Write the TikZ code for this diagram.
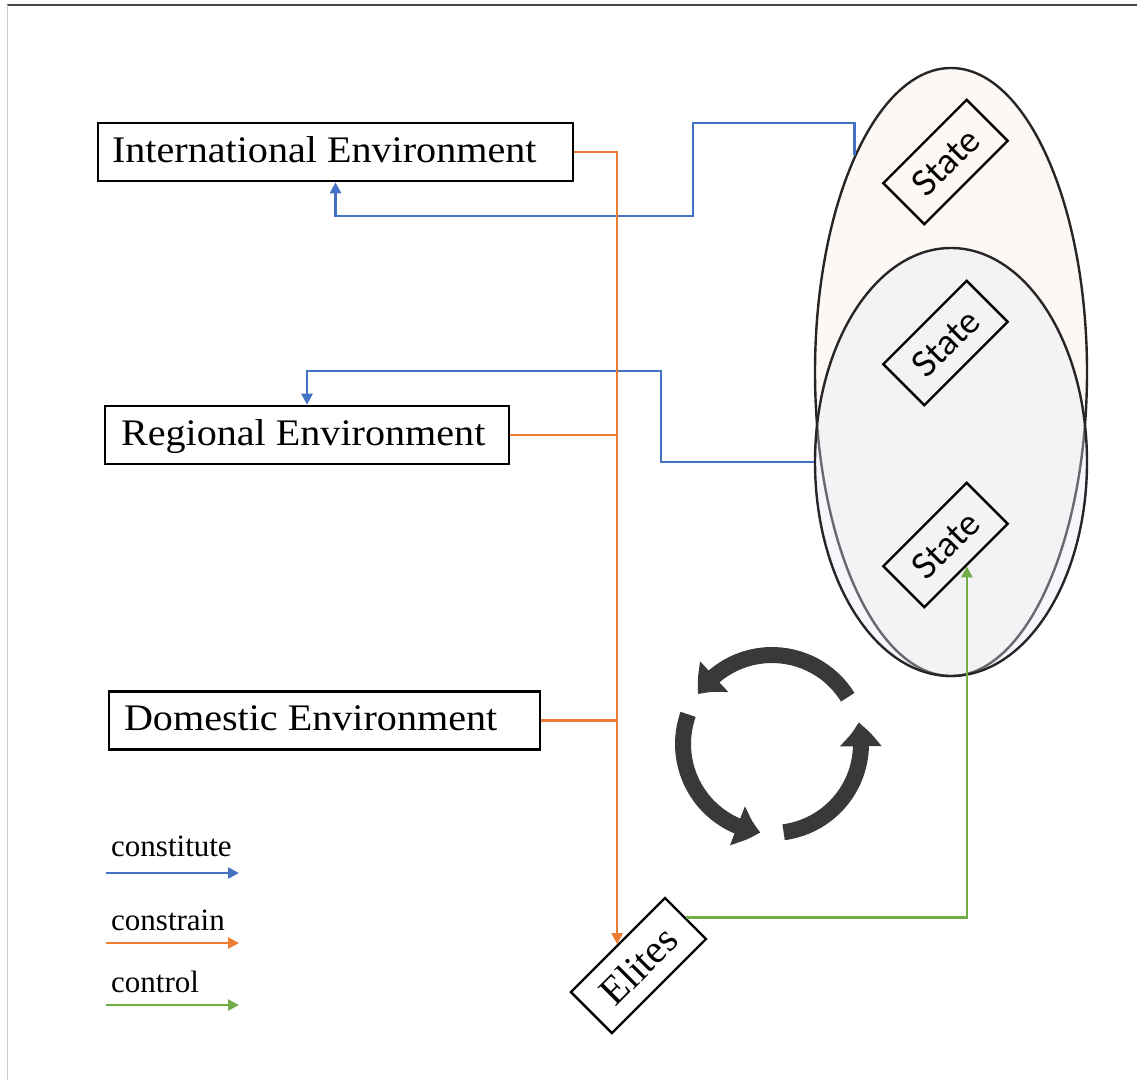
\documentclass[tikz,border=0pt]{standalone}
\usepackage{fontspec}
\setmainfont{Liberation Serif}
\newfontfamily\statefont{Lato}
\newfontfamily\envfamily[FakeStretch=1.07]{Liberation Serif}
\newcommand\envfont{\envfamily\fontsize{37.5}{40}\selectfont}
\usetikzlibrary{arrows.meta,bending,shapes.geometric}

\definecolor{cblue}{HTML}{4472C4}
\definecolor{corange}{HTML}{ED7D31}
\definecolor{cgreen}{HTML}{70AD47}
\definecolor{ringcol}{HTML}{262626}
\definecolor{creamfill}{HTML}{FDF8F3}
\definecolor{veilfill}{HTML}{E2E8F6}
\definecolor{cyclecol}{HTML}{3B3938}

% left-aligned label of fixed width inside an environment box
\newcommand\envlabel[2]{\makebox[#1][l]{#2}}

\tikzset{
  envbox/.style={draw=black, line width=2.6pt, minimum height=58pt, inner ysep=0pt,
    font=\envfont, text height=24pt, text depth=4pt},
  statebox/.style={draw=black, line width=2.4pt, rotate=45, minimum width=118pt,
    minimum height=58pt, inner sep=0pt, font=\statefont\fontsize{35}{40}\selectfont},
  elitebox/.style={draw=black, line width=2.4pt, fill=white, rotate=45, minimum width=133pt,
    minimum height=58pt, inner sep=0pt, font=\fontsize{40}{44}\selectfont},
  tipsmall/.tip={Triangle[length=11pt,width=11pt]},
  constitute/.style={draw=cblue, line width=2.4pt, -tipsmall},
  constrain/.style={draw=corange, line width=2.4pt, -tipsmall},
  constrainline/.style={draw=corange, line width=2.4pt},
  control/.style={draw=cgreen, line width=2.4pt, -tipsmall},
  legendtext/.style={anchor=base west, inner sep=0pt, font=\fontsize{31}{34}\selectfont},
  cyclearrow/.style={draw=cyclecol, line width=16pt, -{Triangle[length=24pt,width=40pt,bend]}},
}

\begin{document}
\begin{tikzpicture}[x=1pt, y=-1pt]
  \useasboundingbox (0,0) rectangle (1137,1080);

  % page frame
  \draw[line width=1.4pt, color=black!72] (7,5) -- (1137,5);
  \draw[line width=1.6pt, color=black!20] (7.5,5) -- (7.5,1080);

  % nested state ellipses
  \node[ellipse, draw=ringcol, line width=2.4pt, fill=creamfill, inner sep=0pt,
        minimum width=272pt, minimum height=608pt] (outer) at (951,372) {};
  \node[ellipse, draw=ringcol, line width=2.4pt, fill=veilfill, fill opacity=0.35,
        draw opacity=1, inner sep=0pt,
        minimum width=272pt, minimum height=428pt] (inner) at (951,462) {};

  \node[statebox] (s1) at (945.5,162) {State};
  \node[statebox] (s2) at (945.5,343) {State};
  \node[statebox] (s3) at (945.5,545) {State};

  % environments
  \node[envbox, inner xsep=14pt] (intl) at (335.5,152) {\envlabel{447pt}{International Environment}};
  \node[envbox, inner xsep=16pt] (reg)  at (307,435)   {\envlabel{372pt}{Regional Environment}};
  \node[envbox, inner xsep=15pt] (dom)  at (324.5,720.5) {\envlabel{401pt}{Domestic Environment}};

  \node[elitebox] (elites) at (638.5,965.5) {Elites};

  % constitute
  \draw[constitute] (outer.114) |- (693,123) -- (693,216) -| (intl.south);
  \draw[constitute] (inner.west) -- (661,462) -- (661,371) -| (reg.north);

  % constrain
  \draw[constrain] (intl.east) -| (elites.north);
  \draw[constrainline] (reg.east) -- (reg.east -| elites.north);
  \draw[constrainline] (dom.east) -- (dom.east -| elites.north);

  % control
  \draw[control] (elites.east) -| (s3.south);

  % cycle of three arrows
  \coordinate (cyc) at (772,744);
  \draw[cyclearrow] (cyc) ++(-31.7:89) arc[start angle=-31.7, end angle=-146, radius=89];
  \draw[cyclearrow] (cyc) ++(-160.5:89) arc[start angle=-160.5, end angle=-262.5, radius=89];
  \draw[cyclearrow] (cyc) ++(-277.5:89) arc[start angle=-277.5, end angle=-374, radius=89];

  % legend
  \node[legendtext] (lt1) at (111,856) {constitute};
  \node[legendtext] (lt2) at (111,930) {constrain};
  \node[legendtext] (lt3) at (111,992) {control};
  \coordinate (la1) at (106,873);  \coordinate (lb1) at (239,873);
  \coordinate (la2) at (106,943);  \coordinate (lb2) at (239,943);
  \coordinate (la3) at (106,1005); \coordinate (lb3) at (239,1005);
  \draw[constitute] (la1) -- (lb1);
  \draw[constrain] (la2) -- (lb2);
  \draw[control] (la3) -- (lb3);
\end{tikzpicture}
\end{document}
